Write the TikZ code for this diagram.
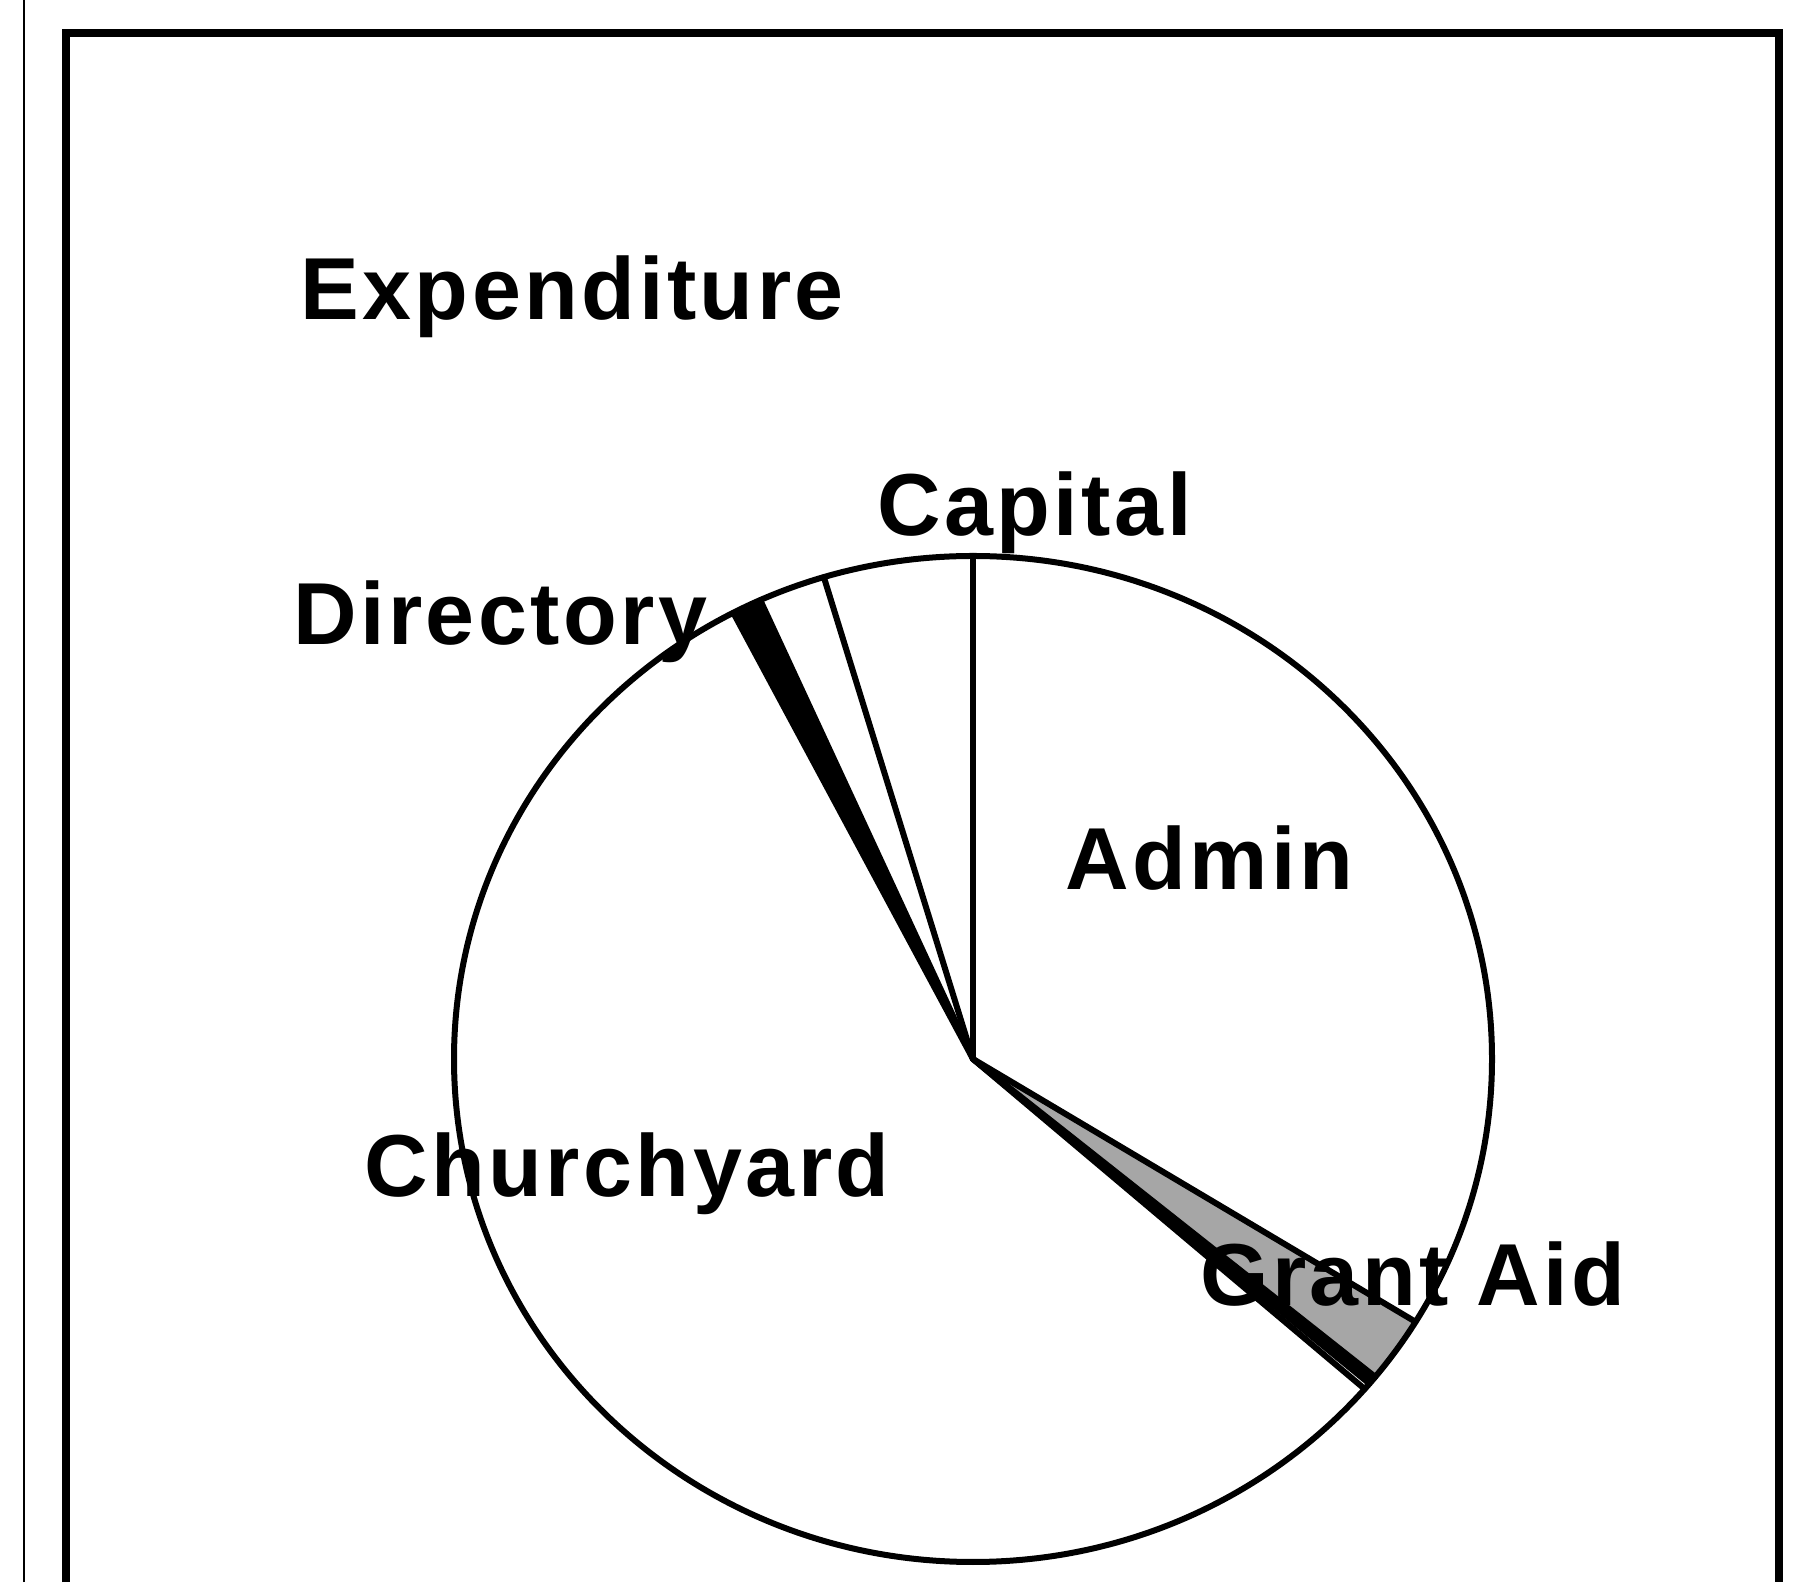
\documentclass[tikz,border=0pt]{standalone}
\usepackage{fontspec}
\setmainfont{Liberation Sans}
\newfontfamily\lblfont[LetterSpace=4]{Liberation Sans}
\begin{document}
\begin{tikzpicture}[x=1pt,y=1pt,
  lbl/.style={font=\lblfont\fontsize{88}{100}\selectfont\bfseries, inner sep=0pt, anchor=base west},
  pieline/.style={line width=6pt, line join=round, line cap=round},
  frameline/.style={line width=8pt},
  sl/.style={x radius=519, y radius=503}]
\useasboundingbox (0,0) rectangle (1796,1582);
\fill[white] (0,0) rectangle (1796,1582);
% scan edge line and frame
\draw[line width=2pt] (24,0) -- (24,1582);
\draw[frameline] (66,0) -- (66,1549) -- (1779,1549) -- (1779,0);
% pie
\coordinate (O) at (973,523);
% Directory (black)
\fill[black] (O) -- ++(114.2:519 and 503) arc[sl, start angle=114.2, end angle=117.5] -- cycle;
% Grant Aid (stippled)
\fill[black!35] (O) -- ++(-39.2:519 and 503) arc[sl, start angle=-39.2, end angle=-31.5] -- cycle;
% thin black slice
\fill[black] (O) -- ++(-40.2:519 and 503) arc[sl, start angle=-40.2, end angle=-39.2] -- cycle;
% slice boundaries
\foreach \a in {90,106.7,114.2,117.5,-41,-40.2,-39.2,-31.5}
  \draw[pieline] (O) -- ++(\a:519 and 503);
% outline
\draw[pieline] (O) ellipse [sl];
% labels
\node[lbl] (exp) at (300,1262) {Expenditure};
\node[lbl] (cap) at (877,1046) {Capital};
\node[lbl] (dir) at (293,937) {Directory};
\node[lbl] (adm) at (1065,692) {Admin};
\node[lbl] (chy) at (364,385) {Churchyard};
\node[lbl] (gra) at (1200,276) {Grant Aid};
\end{tikzpicture}
\end{document}
